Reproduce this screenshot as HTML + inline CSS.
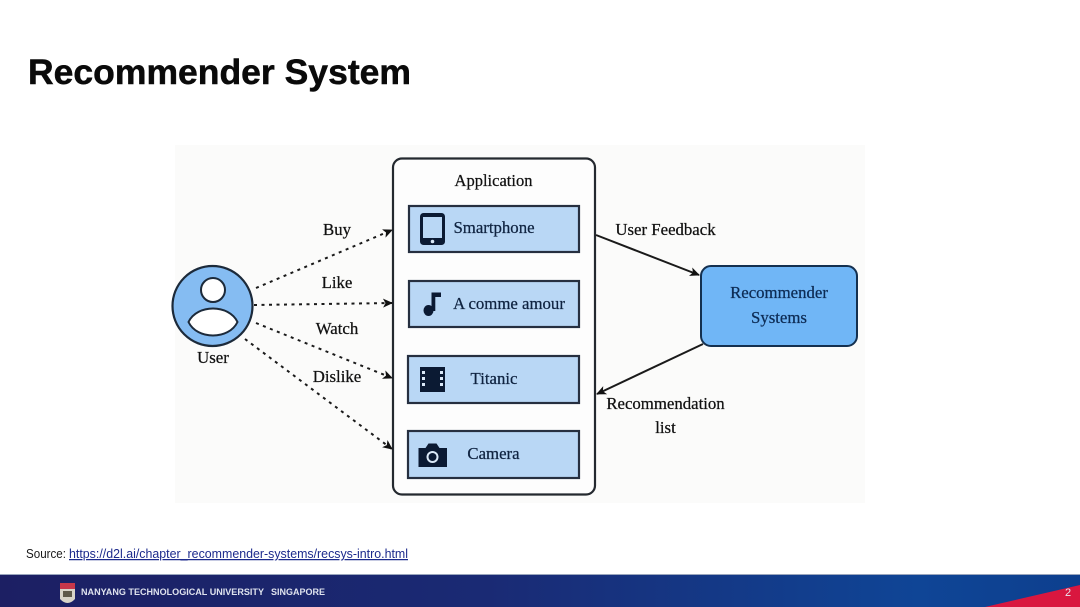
<!DOCTYPE html>
<html><head><meta charset="utf-8"><style>
html,body{margin:0;padding:0;background:#fff}
svg{display:block;filter:blur(.35px)}
text{font-family:"Liberation Serif",serif;fill:#111}
.sans{font-family:"Liberation Sans",sans-serif}
.lbl text{stroke:currentColor;stroke-width:.25px}
</style></head><body>
<svg width="1080" height="607" viewBox="0 0 1080 607" xmlns="http://www.w3.org/2000/svg">
<defs>
<linearGradient id="f" x1="0" y1="0" x2="1" y2="0"><stop offset="0" stop-color="#1c1f63"/><stop offset=".45" stop-color="#1a2a74"/><stop offset=".85" stop-color="#0f4596"/><stop offset="1" stop-color="#0d3f8e"/></linearGradient>
<marker id="a" markerWidth="10" markerHeight="9" refX="9" refY="4.500" orient="auto" markerUnits="userSpaceOnUse"><path d="M0 0L10 4.500L0 9L2.500 4.500Z" fill="#111"/></marker>
</defs>
<rect width="1080" height="607" fill="#fff"/>
<rect x="175" y="145" width="690" height="358" fill="#fbfbfa"/>
<text class="sans" x="28" y="84" font-size="35" font-weight="700" textLength="383" lengthAdjust="spacingAndGlyphs" stroke="#0a0a0a" stroke-width=".5" style="fill:#0a0a0a">Recommender System</text>

<rect x="393" y="158.500" width="202" height="336" rx="9" fill="#fdfdfd" stroke="#24292f" stroke-width="2.200"/>
<g fill="#b9d7f5" stroke="#262f40" stroke-width="2.200">
<rect x="409" y="206" width="170" height="46"/>
<rect x="409" y="281" width="170" height="46"/>
<rect x="408" y="356" width="171" height="47"/>
<rect x="408" y="431" width="171" height="47"/>
</g>
<rect x="701" y="266" width="156" height="80" rx="10" fill="#70b6f6" stroke="#14304f" stroke-width="2"/>

<circle cx="212.500" cy="306" r="40" fill="#85bcf2" stroke="#1c2a3a" stroke-width="2.200"/>
<circle cx="213" cy="290" r="12" fill="#fff" stroke="#1c2a3a" stroke-width="2"/>
<path d="M188.500 322C197 304 229 304 237.500 322C229 340 197 340 188.500 322Z" fill="#fff" stroke="#1c2a3a" stroke-width="2"/>

<g stroke="#1a1a1a" stroke-width="2" stroke-dasharray="3 4.500" fill="none">
<path d="M256 288L392 230" marker-end="url(#a)"/>
<path d="M254 305L392 303" marker-end="url(#a)"/>
<path d="M256 323L392 378" marker-end="url(#a)"/>
<path d="M245 339L392 449" marker-end="url(#a)"/>
</g>
<g stroke="#1a1a1a" stroke-width="2" fill="none">
<path d="M596 235L699 275" marker-end="url(#a)"/>
<path d="M703 344L597 394" marker-end="url(#a)"/>
</g>

<!-- icons -->
<g fill="#0b1a33">
<rect x="420" y="213" width="25" height="32" rx="3.500"/>
<rect x="423" y="217" width="19" height="21" fill="#b9d7f5"/>
<circle cx="432.500" cy="241.500" r="1.800" fill="#dbe9f8"/>
<ellipse cx="428.500" cy="310.500" rx="5" ry="5.500"/>
<rect x="431.500" y="293" width="3.800" height="18"/>
<rect x="431.500" y="292.500" width="9.500" height="4.500"/>
<rect x="420" y="367" width="25" height="25"/>
<g fill="#dbe9f8">
<rect x="422" y="371" width="3" height="3"/><rect x="422" y="377" width="3" height="3"/><rect x="422" y="383" width="3" height="3"/>
<rect x="440" y="371" width="3" height="3"/><rect x="440" y="377" width="3" height="3"/><rect x="440" y="383" width="3" height="3"/>
</g>
<path d="M418.500 448h7l3-4.500h8l3 4.500h7.500v19h-28.500z"/>
<circle cx="432.500" cy="457" r="6" fill="#dbe9f8"/>
<circle cx="432.500" cy="457" r="4" fill="#0b1a33"/>
</g>

<g class="lbl" font-size="16.800" text-anchor="middle">
<text x="493.500" y="186" font-size="16.500" color="#111">Application</text>
<text x="494" y="233" color="#0f2340" style="fill:#0f2340">Smartphone</text>
<text x="509" y="309" color="#0f2340" style="fill:#0f2340">A comme amour</text>
<text x="494" y="384" color="#0f2340" style="fill:#0f2340">Titanic</text>
<text x="493.500" y="459" color="#0f2340" style="fill:#0f2340">Camera</text>
<text x="337" y="235" color="#111">Buy</text>
<text x="337" y="288" color="#111">Like</text>
<text x="337" y="334" color="#111">Watch</text>
<text x="337" y="382" color="#111">Dislike</text>
<text x="213" y="363" color="#111">User</text>
<text x="665.500" y="235" color="#111">User Feedback</text>
<text x="779" y="298" color="#0d2c55" style="fill:#0d2c55">Recommender</text>
<text x="779" y="323" color="#0d2c55" style="fill:#0d2c55">Systems</text>
<text x="665.500" y="409" color="#111">Recommendation</text>
<text x="665.500" y="433" color="#111">list</text>
</g>

<text class="sans" x="26" y="558" font-size="12.500" textLength="40" lengthAdjust="spacingAndGlyphs" style="fill:#1a1a1a">Source:</text>
<text class="sans" x="69" y="558" font-size="12.500" textLength="339" lengthAdjust="spacingAndGlyphs" text-decoration="underline" style="fill:#1c2a8c">https://d2l.ai/chapter_recommender-systems/recsys-intro.html</text>

<rect y="574" width="1080" height="1.500" fill="#9aa6bd"/>
<rect y="575" width="1080" height="32" fill="url(#f)"/>
<path d="M985 607L1080 585V607Z" fill="#d9173f"/>
<path d="M60 583h15v16q-7.500 8-15 0z" fill="#d8d4c8"/>
<path d="M60 583h15v6h-15z" fill="#c8374a"/>
<path d="M63 591h9v6h-9z" fill="#5f5a4a"/>
<text class="sans" x="81" y="595" font-size="9" font-weight="700" textLength="183" lengthAdjust="spacingAndGlyphs" style="fill:#dfe3ee">NANYANG TECHNOLOGICAL UNIVERSITY</text>
<text class="sans" x="271" y="595" font-size="9" font-weight="700" textLength="54" lengthAdjust="spacingAndGlyphs" style="fill:#dfe3ee">SINGAPORE</text>
<text class="sans" x="1065" y="596" font-size="11" style="fill:#e8e8f0">2</text>
</svg>
</body></html>
